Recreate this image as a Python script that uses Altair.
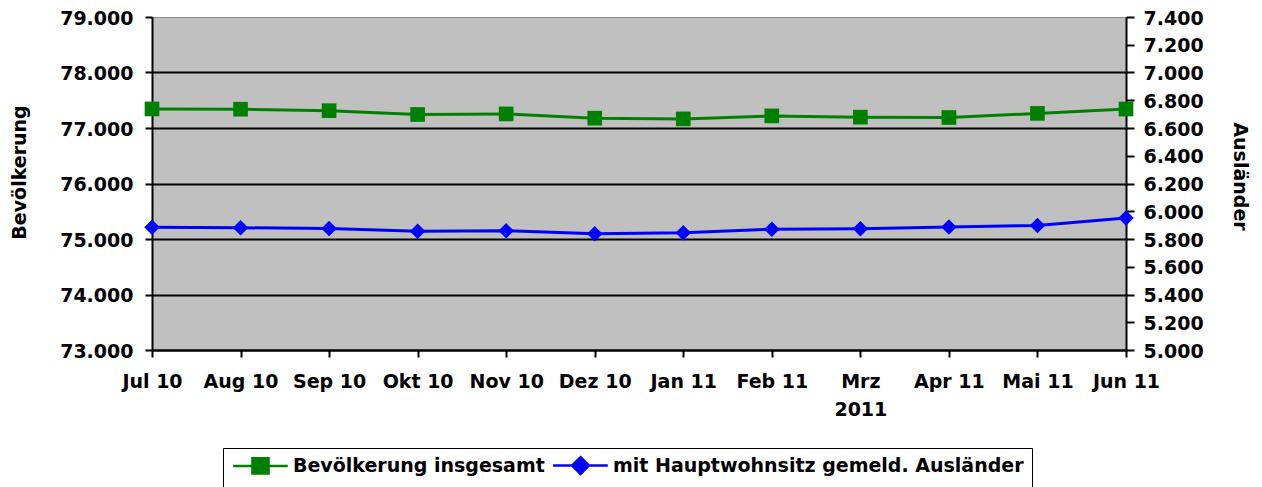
import altair as alt
import pandas as pd

months = ["Jul 10", "Aug 10", "Sep 10", "Okt 10", "Nov 10", "Dez 10",
          "Jan 11", "Feb 11", "Mrz 2011", "Apr 11", "Mai 11", "Jun 11"]
bevoelkerung = [77344, 77339, 77312, 77243, 77254, 77177,
                77164, 77218, 77195, 77189, 77263, 77342]
auslaender = [5884, 5881, 5876, 5855, 5859, 5838,
              5845, 5871, 5874, 5886, 5898, 5951]
series_names = ["Bevölkerung insgesamt", "mit Hauptwohnsitz gemeld. Ausländer"]
series_colors = ["#008000", "#0000FF"]
left_ticks = [73000, 74000, 75000, 76000, 77000, 78000, 79000]
right_ticks = [5000, 5200, 5400, 5600, 5800, 6000, 6200, 6400, 6600, 6800, 7000, 7200, 7400]

legend_paths = [
    "M-3.9,0H3.9M-1.15,-1.1H1.15V1.1H-1.15Z",
    "M-3.9,0H3.9M0,-1.2L1.2,0L0,1.2L-1.2,0Z",
]

df_b = pd.DataFrame({"Monat": months, "Wert": bevoelkerung})
df_a = pd.DataFrame({"Monat": months, "Wert": auslaender})
df_leg = pd.DataFrame({"Reihe": series_names})

FONT = "DejaVu Sans"
FS = 19
GREEN, BLUE = series_colors
THOUSANDS = "replace(format(datum.value, ',.0f'), ',', '.')"

x_enc = alt.X(
    "Monat:N", sort=months, scale=alt.Scale(padding=0),
    axis=alt.Axis(
        title=None, labelAngle=0, labelFont=FONT, labelFontSize=FS,
        labelFontWeight="bold", labelColor="black", labelPadding=15,
        labelLineHeight=28, labelOverlap=False,
        labelExpr="datum.label == 'Mrz 2011' ? ['Mrz', '2011'] : datum.label",
        tickSize=7, tickColor="black", tickWidth=2,
        domainColor="black", domainWidth=2, grid=False,
    ),
)

y_left = alt.Y(
    "Wert:Q",
    scale=alt.Scale(domain=[73000, 79000], nice=False, zero=False),
    axis=alt.Axis(
        values=left_ticks, labelExpr=THOUSANDS, title="Bevölkerung",
        labelFont=FONT, labelFontSize=FS, labelFontWeight="bold",
        labelColor="black", labelPadding=12, labelOffset=1,
        tickSize=7, tickColor="black", tickWidth=2,
        domainColor="black", domainWidth=2,
        grid=True,
        gridColor=alt.condition("datum.value == 79000", alt.value("#8c8c8c"), alt.value("black")),
        gridWidth=alt.condition("datum.value == 79000", alt.value(1), alt.value(2)),
        titleFont=FONT, titleFontSize=FS, titleFontWeight="bold", titleColor="black",
        titleAngle=270, titleAlign="center", titleBaseline="middle",
        titleX=-133, titleY=155,
    ),
)

y_right = alt.Y(
    "Wert:Q",
    scale=alt.Scale(domain=[5000, 7400], nice=False, zero=False),
    axis=alt.Axis(
        orient="right", values=right_ticks, labelExpr=THOUSANDS, title="Ausländer",
        labelFont=FONT, labelFontSize=FS, labelFontWeight="bold",
        labelColor="black", labelPadding=9, labelOffset=1,
        tickSize=8, tickColor="black", tickWidth=2,
        domainColor="black", domainWidth=2, grid=False,
        titleFont=FONT, titleFontSize=FS, titleFontWeight="bold", titleColor="black",
        titleAngle=90, titleAlign="center", titleBaseline="middle",
        titleX=113, titleY=159,
    ),
)

leg = alt.Legend(
    title=None, orient="none", legendX=71, legendY=431, direction="horizontal",
    columns=2, padding=8, strokeColor="black", fillColor="white",
    symbolSize=196, symbolStrokeWidth=2.5, symbolOffset=20, symbolOpacity=1,
    labelOffset=23, columnPadding=3,
    labelFont=FONT, labelFontSize=FS, labelFontWeight="bold", labelColor="black",
    labelLimit=1000,
)

left_line = alt.Chart(df_b).mark_line(color=GREEN, strokeWidth=3).encode(x=x_enc, y=y_left)
left_pts = alt.Chart(df_b).mark_point(
    shape="square", filled=True, size=215, color=GREEN, opacity=1
).encode(x=x_enc, y=y_left)

legend_layer = alt.Chart(df_leg).mark_point(opacity=0, filled=True).encode(
    fill=alt.Fill("Reihe:N", scale=alt.Scale(domain=series_names, range=series_colors), legend=leg),
    stroke=alt.Stroke("Reihe:N", scale=alt.Scale(domain=series_names, range=series_colors), legend=leg),
    shape=alt.Shape("Reihe:N", scale=alt.Scale(domain=series_names, range=legend_paths), legend=leg),
)

right_line = alt.Chart(df_a).mark_line(color=BLUE, strokeWidth=3).encode(x=x_enc, y=y_right)
right_pts = alt.Chart(df_a).mark_point(
    shape="diamond", filled=True, size=240, color=BLUE, opacity=1
).encode(x=x_enc, y=y_right)

left = alt.layer(left_line, left_pts, legend_layer)
right = alt.layer(right_line, right_pts)

chart = (
    alt.layer(left, right)
    .resolve_scale(y="independent")
    .properties(
        width=974, height=333,
        autosize=alt.AutoSizeParams(type="none"),
        padding={"left": 144, "top": 9, "right": 127, "bottom": 137},
        background="white",
        view=alt.ViewBackground(fill="#C0C0C0", stroke=None),
    )
    .configure_view(fill="#C0C0C0", stroke=None)
)

chart.save("out.html", embed_options={"renderer": "svg", "actions": False})
